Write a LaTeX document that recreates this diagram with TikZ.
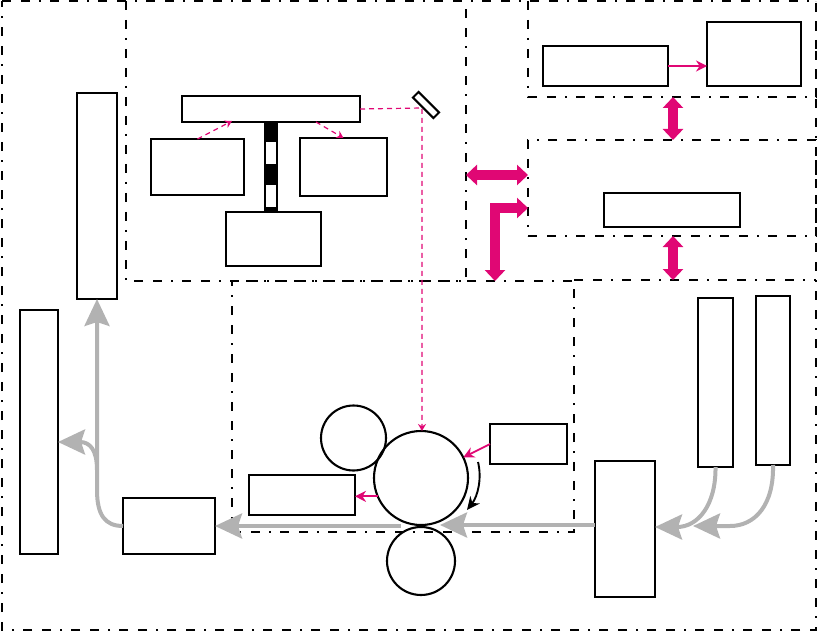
\documentclass[tikz,border=0pt]{standalone}
\usetikzlibrary{
    arrows.meta,
    calc
}
\definecolor{signalpink}{RGB}{224,7,116}
\definecolor{feedgray}{RGB}{178,178,178}
\tikzset{
    unit/.style={draw, line width=2.1pt, inner sep=0pt, outer sep=0pt},
    roller/.style={draw, circle, line width=2.1pt, inner sep=0pt, outer sep=0pt},
    regionline/.style={line width=2.1pt,
        dash pattern=on 9pt off 10pt on 9pt off 9pt on 2pt off 9pt},
    region/.style={draw, regionline, inner sep=0pt, outer sep=0pt},
    signal/.style={-{Stealth[length=11pt,width=11pt]}, line width=1.8pt, signalpink},
    beam/.style={-{Stealth[length=7pt,width=8pt]}, line width=1.2pt, signalpink,
        dash pattern=on 5pt off 4pt},
    bus/.style={{Triangle[length=11pt,width=20pt]}-{Triangle[length=11pt,width=20pt]},
        line width=10pt, signalpink},
    feed/.style={-{Stealth[length=27pt,width=25pt,inset=4pt]}, line width=4pt, feedgray},
    spin/.style={-{Stealth[length=13pt,width=12pt]}, line width=1.9pt}
}

\begin{document}
\begin{tikzpicture}[x=1pt, y=-1pt]
    \useasboundingbox (0,0) rectangle (819,631);
    % regions
    \coordinate (plantnw) at (2,1);
    \coordinate (plantse) at (816,630);
    \draw[regionline] (plantnw) -- (plantnw -| plantse) -- (plantse) -- (plantse -| plantnw) -- cycle;
    \coordinate (sensornw) at (126,1);
    \coordinate (sensorse) at (466,281);
    \draw[regionline] (sensornw) -- (sensornw |- sensorse) -- (sensorse) -- (sensorse |- sensornw);
    \coordinate (hostnw) at (528,1);
    \coordinate (hostse) at (816,97);
    \coordinate (hosts) at (673,97);
    \draw[regionline] (hostnw) -- (hostnw |- hostse) -- (hostse) -- (hostse |- hostnw);
    \node[region, minimum width=342pt, minimum height=251pt] (engine) at (403,406.5) {};
    \node[region, minimum width=288pt, minimum height=96pt] (ctrl) at (672,188) {};
    \coordinate (paperleft) at (574,280);
    \coordinate (paperright) at (816,280);
    \draw[regionline] (paperleft) -- (paperright);
    % sensor block
    \node[unit, minimum width=178pt, minimum height=26pt] (head) at (271,109) {};
    \node[unit, minimum width=93pt, minimum height=56pt] (lamp) at (197.5,167) {};
    \node[unit, minimum width=87pt, minimum height=58pt] (ccd) at (343.5,167) {};
    \node[unit, minimum width=95pt, minimum height=54pt] (drive) at (273.5,239) {};
    \node[unit, minimum width=12pt, minimum height=90pt] (scale) at (271,167) {};
    \foreach \a/\b in {122/142,164/185,207/212}{
        \fill (265,\a) rectangle (277,\b);
    }
    \node[unit, rotate=-45, minimum width=29pt, minimum height=8pt] (mirror) at (426,105) {};
    % host and controller
    \node[unit, minimum width=125pt, minimum height=40pt] (scan) at (605.5,66) {};
    \node[unit, minimum width=94pt, minimum height=64pt] (view) at (754,54) {};
    \node[unit, minimum width=136pt, minimum height=34pt] (proc) at (672,210) {};
    % print engine
    \node[roller, minimum size=94pt] (drum) at (421,478) {};
    \node[roller, minimum size=65pt] (clean) at (353.5,438) {};
    \node[roller, minimum size=68pt] (press) at (421,561) {};
    \node[unit, minimum width=106pt, minimum height=40pt] (dev) at (302,495) {};
    \node[unit, minimum width=77pt, minimum height=40pt] (charge) at (528.5,444) {};
    % paper path
    \node[unit, minimum width=60pt, minimum height=136pt] (feeder) at (625,529) {};
    \node[unit, minimum width=35pt, minimum height=169pt] (trayone) at (715.5,382.5) {};
    \node[unit, minimum width=34pt, minimum height=169pt] (traytwo) at (773,380.5) {};
    \node[unit, minimum width=92pt, minimum height=56pt] (fuser) at (169,526) {};
    \node[unit, minimum width=40pt, minimum height=206pt] (stacker) at (97,196) {};
    \node[unit, minimum width=38pt, minimum height=244pt] (bin) at (39,432) {};
    % buses
    \coordinate (busmid) at (497,175);
    \coordinate (elbow) at (495,208);
    \draw[bus] (hosts) -- (hosts |- ctrl.north);
    \draw[bus] (hosts |- ctrl.south) -- (hosts |- paperleft);
    \draw[bus] (sensorse |- busmid) -- (ctrl.west |- busmid);
    \draw[bus] (ctrl.west |- elbow) -- (elbow) -- (elbow |- engine.north);
    % signals
    \coordinate (fold) at (422,108);
    \coordinate (lamphit) at (232,121);
    \coordinate (ccdstart) at (316,122);
    \draw[beam] (head.east) -- (fold) -- (fold |- drum.north);
    \draw[beam] (lamp.north) -- (lamphit);
    \draw[beam] (ccdstart) -- (ccd.north);
    \draw[signal] (scan.east) -- (scan.east -| view.west);
    \draw[signal] (charge.west) -- (drum.26.6);
    \draw[signal] (drum.203) -- (drum.203 -| dev.east);
    % drum rotation
    \coordinate (spinstart) at (478,462);
    \coordinate (spinend) at (467,510);
    \draw[spin] (spinstart) .. controls (482,478) and (478,496) .. (spinend);
    % paper feed
    \coordinate (inlet) at (440,525);
    \coordinate (outlet) at (401,526);
    \coordinate (joinone) at (655,527);
    \coordinate (jointwo) at (693,526);
    \coordinate (branch) at (97,470);
    \draw[feed] (feeder.west |- inlet) -- (inlet);
    \draw[feed] (outlet) -- (fuser.east);
    \draw[feed] (trayone.south) .. controls (716,505) and (698,527) .. (joinone);
    \draw[feed] (traytwo.south) .. controls (774,505) and (755,526) .. (730,526) -- (jointwo);
    \draw[feed] (fuser.west) .. controls (105,526) and (97,515) .. (97,490) -- (stacker.south);
    \draw[feed] (branch) .. controls (97,450) and (90,442) .. (bin.east |- 0,442);
\end{tikzpicture}
\end{document}
